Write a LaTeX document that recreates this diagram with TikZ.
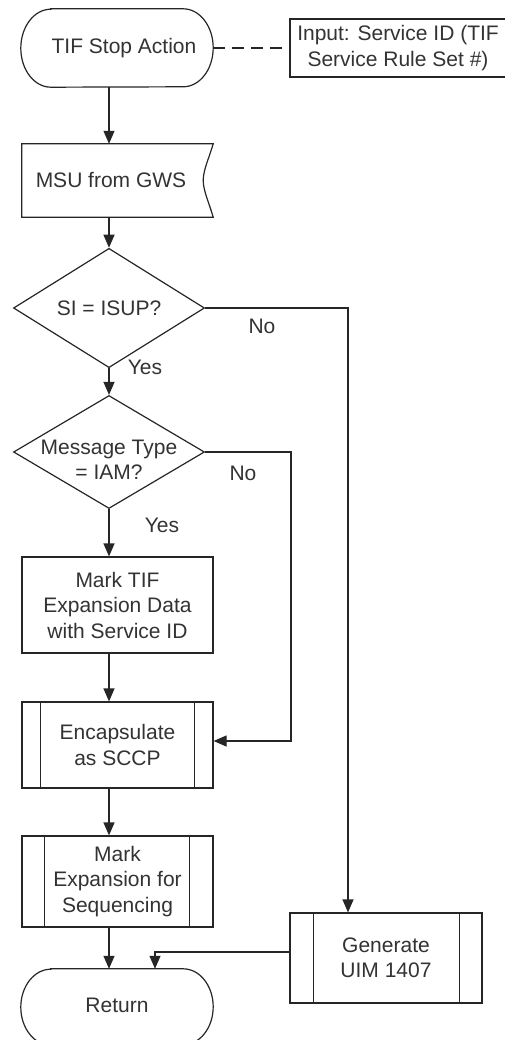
\documentclass[tikz,border=0pt]{standalone}
\usepackage{fontspec}
\setmainfont{Liberation Sans}
\usetikzlibrary{arrows.meta,shapes.geometric}
\begin{document}
\begin{tikzpicture}[x=1pt,y=1pt,
  font=\fontsize{21}{25.5}\selectfont,
  every node/.style={text=black!80},
  ln/.style={draw=black!85, line width=1.2pt},
  arr/.style={ln, -{Triangle[width=11pt,length=13pt]}},
  box/.style={ln, rectangle, inner sep=0pt, align=center},
  plain/.style={rectangle, inner sep=0pt, align=center},
  dia/.style={ln, diamond, inner sep=0pt, minimum width=191pt, minimum height=96pt, align=center},
  lbl/.style={inner sep=0pt}
]
\fill[white] (0,0) rectangle (504,-1040);
\useasboundingbox (0,0) rectangle (504,-1040);
\coordinate (c) at (109,0);

% start terminal
\node[plain, minimum width=192pt, minimum height=78pt] (start) at (117,-48) {\hspace*{14pt}TIF Stop Action};
\draw[ln] ([xshift=30pt]start.north west) -- ([xshift=-30pt]start.north east)
  arc[start angle=90,end angle=-90,x radius=30pt,y radius=39pt]
  -- ([xshift=30pt]start.south west)
  arc[start angle=270,end angle=90,x radius=30pt,y radius=39pt] -- cycle;

% input annotation
\node[box, minimum width=216pt, minimum height=58pt] (inp) at (398,-48) {Input: Service ID (TIF\\Service Rule Set \#)};
\draw[ln, dash pattern=on 12pt off 7pt] (start.east) -- (inp.west);

% MSU from GWS
\node[plain, minimum width=191pt, minimum height=73pt] (msu) at (117.5,-180.5) {MSU from GWS\hspace*{13pt}};
\draw[ln] (msu.north west) -- (msu.north east)
  .. controls ([xshift=-4pt,yshift=-14pt]msu.north east) and ([xshift=-10pt,yshift=-26pt]msu.north east) .. ([xshift=-10pt]msu.east)
  .. controls ([xshift=-10pt,yshift=-10pt]msu.east) and ([xshift=-4pt,yshift=14pt]msu.south east) .. (msu.south east)
  -- (msu.south west) -- cycle;

% decisions
\node[dia] (si) at (109,-308) {SI = ISUP?};
\node[dia, minimum height=113pt] (mt) at (109,-452) {};
\node[plain] (mtt) at (109,-460) {Message Type\\= IAM?};

% processes
\node[box, minimum width=191pt, minimum height=96pt] (mark) at (117.5,-605) {Mark TIF\\Expansion Data\\with Service ID};
\node[box, minimum width=191pt, minimum height=86pt] (enc) at (117.5,-745) {Encapsulate\\as SCCP};
\draw[ln] ([xshift=19pt]enc.north west) -- ([xshift=19pt]enc.south west);
\draw[ln] ([xshift=-19pt]enc.north east) -- ([xshift=-19pt]enc.south east);
\node[box, minimum width=191pt, minimum height=91pt] (mexp) at (117.5,-881.5) {Mark\\Expansion for\\Sequencing};
\draw[ln] ([xshift=23pt]mexp.north west) -- ([xshift=23pt]mexp.south west);
\draw[ln] ([xshift=-24pt]mexp.north east) -- ([xshift=-24pt]mexp.south east);
\node[box, minimum width=192pt, minimum height=90pt] (gen) at (386,-958) {Generate\\UIM 1407};
\draw[ln] ([xshift=24pt]gen.north west) -- ([xshift=24pt]gen.south west);
\draw[ln] ([xshift=-23pt]gen.north east) -- ([xshift=-23pt]gen.south east);

% return terminal
\node[plain, minimum width=192pt, minimum height=76pt] (ret) at (117,-1007) {\raisebox{4pt}{Return}};
\draw[ln] ([xshift=30pt]ret.north west) -- ([xshift=-30pt]ret.north east)
  arc[start angle=90,end angle=-90,x radius=30pt,y radius=38pt]
  -- ([xshift=30pt]ret.south west)
  arc[start angle=270,end angle=90,x radius=30pt,y radius=38pt] -- cycle;

% connectors
\draw[arr] (start.south -| c) -- (msu.north -| c);
\draw[arr] (msu.south -| c) -- (si.north);
\draw[arr] (si.south) -- (mt.north);
\draw[arr] (mt.south) -- (mark.north -| c);
\draw[arr] (mark.south -| c) -- (enc.north -| c);
\draw[arr] (enc.south -| c) -- (mexp.north -| c);
\draw[arr] (mexp.south -| c) -- (ret.north -| c);

\coordinate (sn) at (348,-308);
\draw[arr] (si.east) -- (sn) -- (sn |- gen.north);
\coordinate (mn) at (291,-452);
\draw[arr] (mt.east) -- (mn) |- ([yshift=4pt]enc.east);
\draw[arr] ([yshift=6pt]gen.west) -| ([xshift=38pt]ret.north);

% labels
\node[lbl] (no1) at (262,-326) {No};
\node[lbl] (yes1) at (145,-367) {Yes};
\node[lbl] (no2) at (243,-473) {No};
\node[lbl] (yes2) at (162,-525) {Yes};
\end{tikzpicture}
\end{document}
